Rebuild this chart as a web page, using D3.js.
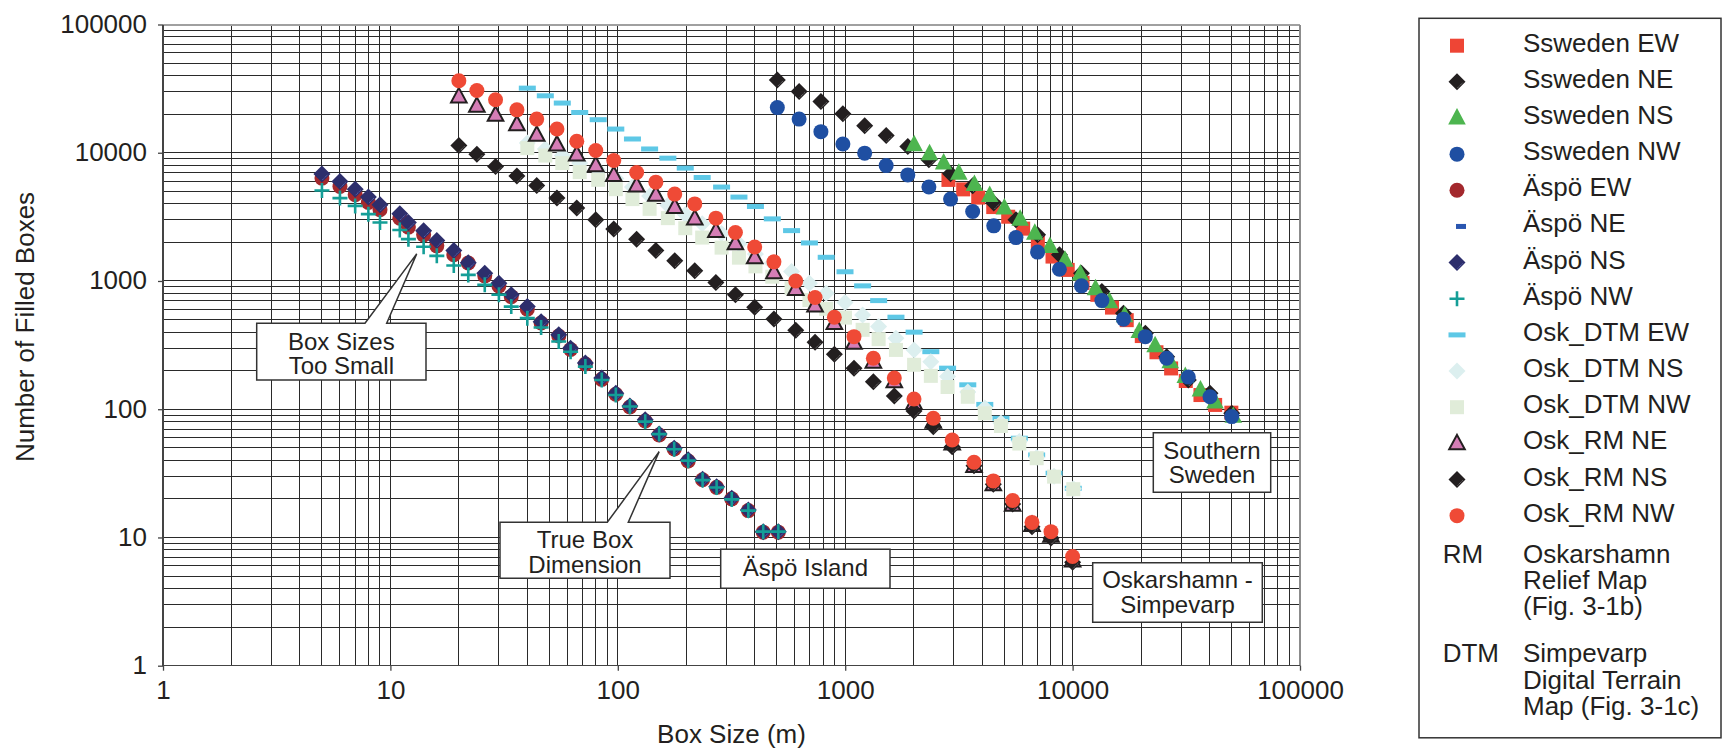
<!DOCTYPE html>
<html>
<head>
<meta charset="utf-8">
<script src="https://cdn.jsdelivr.net/npm/d3@7"></script>
<style>
  body { margin: 0; background: #fff; }
  text { font-family: "Liberation Sans", Arial, sans-serif; fill: #231f20; }
</style>
</head>
<body>
<svg id="chart" width="1724" height="753"></svg>
<script>
// ---- data (box size in m, number of filled boxes) ----
var swX      = [503, 627, 782, 977, 1218, 1514, 1885, 2334, 2906, 3635, 4500, 5634, 7015, 8750, 10940, 13450, 16740, 20890, 25930, 32270, 40200, 50100];
var swNeY    = [36900, 30000, 25100, 20100, 16200, 13600, 11200, 8800, 6850, 5520, 4050, 3000, 2290, 1600, 1150, 827, 561, 392, 257, 169, 133, 93];
var swNwY    = [22500, 18300, 14600, 11700, 9930, 7940, 6720, 5400, 4350, 3480, 2690, 2180, 1680, 1236, 916, 703, 504, 368, 250, 178, 125, 87.6];
var swNsX    = [2010, 2350, 2710, 3160, 3700, 4320, 5010, 5880, 6820, 7950, 9260, 10820, 12610, 14530, 16930, 19650, 23060, 26870, 31300, 36500, 42300, 50900];
var swNsY    = [11530, 9820, 8300, 6930, 5650, 4640, 3700, 3030, 2360, 1860, 1450, 1135, 868, 690, 535, 404, 312, 235, 180, 141, 114, 88];
var swEwX    = [2845, 3303, 3846, 4477, 5210, 6062, 7033, 8160, 9520, 11060, 12840, 14900, 17300, 20150, 23380, 27120, 31460, 36500, 42350, 49900];
var swEwY    = [6140, 5180, 4470, 3770, 3170, 2560, 1980, 1550, 1220, 966, 780, 620, 495, 372, 278, 208, 166, 129, 108, 94];

var aspoX    = [5, 6, 7, 8, 9, 11, 12, 14, 16, 19, 22, 26, 30, 34, 40, 46, 55, 62, 72, 85, 98, 113, 132, 152, 177, 204, 236, 272, 317, 375, 436, 508];
var aspoEwY  = [6340, 5450, 4700, 4090, 3590, 3090, 2630, 2290, 1880, 1600, 1380, 1096, 916, 755, 603, 470, 372, 292, 225, 171, 131, 104, 81, 63, 49, 39.5, 28.2, 24.6, 20, 16.2, 11, 11];
var aspoNeY  = [6700, 5850, 5100, 4430, 3850, 3280, 2800, 2410, 2030, 1700, 1370, 1130, 945, 768, 620, 475, 375, 295, 226, 173, 131, 105, 81.5, 63.5, 49, 40, 28.2, 24.7, 20, 16.2, 11, 11];
var aspoNsY  = [6840, 5960, 5200, 4510, 3930, 3340, 2860, 2460, 2070, 1730, 1390, 1150, 961, 780, 631, 482, 380, 299, 229, 175, 133, 106, 82.6, 64.1, 49.6, 40.3, 28.5, 24.9, 20.2, 16.4, 11.1, 11.1];
var aspoNwY  = [5070, 4430, 3850, 3320, 2860, 2500, 2120, 1850, 1570, 1320, 1115, 933, 780, 631, 513, 434, 337, 281, 215, 169, 129, 105, 80, 64, 48.8, 39.7, 28, 24.5, 19.8, 16.2, 11.1, 11.1];

var dtmX     = [40, 48, 57, 68, 82, 98, 116, 138, 166, 198, 235, 286, 341, 403, 478, 581, 696, 825, 998, 1193, 1403, 1672, 2009, 2380, 2820, 3460, 4110, 4840, 5830, 6950, 8290, 10070];
var dtmEwY   = [31900, 27800, 24400, 20600, 18100, 15300, 12800, 10700, 9070, 7590, 6410, 5400, 4510, 3810, 3050, 2470, 1980, 1530, 1180, 916, 703, 522, 399, 281, 209, 155, 109, 85, 59.4, 44, 31.7, 24.2];
var dtmNsY   = [11900, 10700, 9500, 8300, 7300, 6300, 5400, 4600, 3900, 3300, 2800, 2350, 1950, 1620, 1380, 1185, 961, 803, 679, 544, 441, 358, 290, 235, 180, 136, 102, 78, 56, 42, 30, 24];
var dtmNwY   = [10860, 9510, 8300, 7060, 6150, 5200, 4350, 3650, 3090, 2580, 2180, 1820, 1520, 1300, 1080, 879, 711, 606, 518, 416, 352, 290, 222, 182, 149, 125, 93, 74, 54, 41.5, 29.8, 23.8];

var rmX      = [20, 24, 29, 36, 44, 54, 66, 80, 96, 121, 147, 178, 218, 270, 329, 400, 486, 606, 737, 896, 1093, 1330, 1644, 2007, 2440, 2955, 3685, 4480, 5450, 6630, 8035, 10000];
var rmNeY    = [27500, 23200, 19800, 16700, 13800, 11600, 9700, 8000, 6700, 5550, 4700, 3780, 3070, 2450, 1970, 1530, 1170, 865, 645, 470, 330, 235, 165, 112, 80, 54, 36, 26, 18, 12.5, 10.3, 6.6];
var rmNsY    = [11400, 9750, 7800, 6600, 5550, 4430, 3700, 3000, 2540, 2120, 1730, 1440, 1200, 972, 780, 625, 505, 412, 333, 268, 209, 164, 127, 97, 73, 51, 36.3, 26, 18.2, 12.1, 9.9, 6.4];
var rmNwY    = [36400, 30600, 25900, 21600, 18300, 15300, 12300, 10400, 8700, 7010, 5900, 4760, 3990, 3090, 2390, 1840, 1410, 1000, 743, 522, 368, 250, 175, 120, 85, 57.6, 38.6, 27.6, 19.4, 13.1, 11.1, 7.1];

var majorTicks = [1, 10, 100, 1000, 10000, 100000];

// series table, in drawing / legend order
var series = [
  { name: 'Ssweden EW', x: swEwX, y: swEwY, shape: 'square', fill: '#ee4535' },
  { name: 'Ssweden NE', x: swX, y: swNeY, shape: 'diamond', fill: '#231f20', shine: '#8f8f8f' },
  { name: 'Ssweden NS', x: swNsX, y: swNsY, shape: 'triangle', fill: '#4db54f' },
  { name: 'Ssweden NW', x: swX, y: swNwY, shape: 'circle', fill: '#1f4fa2' },
  { name: 'Äspö EW', x: aspoX, y: aspoEwY, shape: 'circle', fill: '#a3282d' },
  { name: 'Äspö NE', x: aspoX, y: aspoNeY, shape: 'smalldash', fill: '#2a56b0' },
  { name: 'Äspö NS', x: aspoX, y: aspoNsY, shape: 'diamond', fill: '#2d2e6c', shine: '#6f78c8' },
  { name: 'Äspö NW', x: aspoX, y: aspoNwY, shape: 'plus', fill: '#149e97' },
  { name: 'Osk_DTM EW', x: dtmX, y: dtmEwY, shape: 'dash', fill: '#5ec8e6' },
  { name: 'Osk_DTM NS', x: dtmX, y: dtmNsY, shape: 'diamond', fill: '#dcefef' },
  { name: 'Osk_DTM NW', x: dtmX, y: dtmNwY, shape: 'square', fill: '#e0ecd9' },
  { name: 'Osk_RM NE', x: rmX, y: rmNeY, shape: 'outlinetriangle', fill: '#d57db6' },
  { name: 'Osk_RM NS', x: rmX, y: rmNsY, shape: 'diamond', fill: '#231f20', shine: '#8f8f8f' },
  { name: 'Osk_RM NW', x: rmX, y: rmNwY, shape: 'circle', fill: '#ef4a36' }
];

var svg = d3.select('#chart');
var x = d3.scaleLog().domain([1, 1e5]).range([163, 1300]);
var y = d3.scaleLog().domain([1, 1e5]).range([665.7, 24.5]);

// ---- grid ----
var grid = svg.append('g').attr('shape-rendering', 'crispEdges');
var gridVals = x.ticks().filter(function (v) { return v > 1 && v < 1e5; });
grid.selectAll('.vg').data(gridVals).enter().append('line')
  .attr('x1', function (d) { return x(d); }).attr('x2', function (d) { return x(d); })
  .attr('y1', y(1e5)).attr('y2', y(1))
  .attr('stroke', '#2a2a2a').attr('stroke-width', 1);
grid.selectAll('.hg').data(gridVals).enter().append('line')
  .attr('y1', function (d) { return y(d); }).attr('y2', function (d) { return y(d); })
  .attr('x1', x(1)).attr('x2', x(1e5))
  .attr('stroke', '#2a2a2a').attr('stroke-width', 1);

// frame
grid.append('line').attr('x1', x(1)).attr('x2', x(1e5)).attr('y1', y(1e5)).attr('y2', y(1e5))
  .attr('stroke', '#a0a0a0').attr('stroke-width', 2);
grid.append('line').attr('x1', x(1e5)).attr('x2', x(1e5)).attr('y1', y(1e5)).attr('y2', y(1))
  .attr('stroke', '#8c8c8c').attr('stroke-width', 2);
grid.append('line').attr('x1', x(1)).attr('x2', x(1)).attr('y1', y(1e5)).attr('y2', y(1))
  .attr('stroke', '#444').attr('stroke-width', 1.5);
grid.append('line').attr('x1', x(1)).attr('x2', x(1e5)).attr('y1', y(1)).attr('y2', y(1))
  .attr('stroke', '#444').attr('stroke-width', 1.5);

// ---- axes ----
var xAxis = d3.axisBottom(x).tickValues(majorTicks).tickFormat(d3.format('d')).tickSize(5).tickPadding(10);
var yAxis = d3.axisLeft(y).tickValues(majorTicks).tickFormat(d3.format('d')).tickSize(5).tickPadding(11);
var gx = svg.append('g').attr('transform', 'translate(0,' + y(1) + ')').call(xAxis);
var gy = svg.append('g').attr('transform', 'translate(' + x(1) + ',0)').call(yAxis);
[gx, gy].forEach(function (g) {
  g.select('.domain').remove();
  g.selectAll('.tick line').attr('stroke', '#444').attr('stroke-width', 1.3);
  g.selectAll('.tick text').style('font-size', '26px').style('font-family', '"Liberation Sans", Arial, sans-serif').attr('fill', '#231f20');
});
gy.selectAll('.tick text').attr('dy', '0.3em');

svg.append('text').attr('x', (x(1) + x(1e5)) / 2).attr('y', 743)
  .attr('text-anchor', 'middle').style('font-size', '26px').text('Box Size (m)');
svg.append('text').attr('transform', 'translate(34,327) rotate(-90)')
  .attr('text-anchor', 'middle').style('font-size', '26px').text('Number of Filled Boxes');

// ---- markers ----
function drawMarker(sel, s) {
  if (s.shape === 'square') {
    sel.append('rect').attr('x', -7).attr('y', -7).attr('width', 14).attr('height', 14).attr('fill', s.fill);
  } else if (s.shape === 'diamond') {
    sel.append('path').attr('d', 'M0,-8.5L8.5,0L0,8.5L-8.5,0Z').attr('fill', s.fill);
    if (s.shine) {
      sel.append('path').attr('d', 'M0.5,6L6,0.5').attr('stroke', s.shine)
        .attr('stroke-width', 0.8).attr('stroke-dasharray', '1.2,0.8').attr('fill', 'none');
    }
  } else if (s.shape === 'triangle') {
    sel.append('path').attr('d', 'M0,-10L8.8,6.5L-8.8,6.5Z').attr('fill', s.fill);
  } else if (s.shape === 'outlinetriangle') {
    sel.append('path').attr('d', 'M0,-8.5L7.8,6L-7.8,6Z').attr('fill', s.fill)
      .attr('stroke', '#231f20').attr('stroke-width', 2).attr('stroke-linejoin', 'miter');
  } else if (s.shape === 'circle') {
    sel.append('circle').attr('r', 7.5).attr('fill', s.fill);
  } else if (s.shape === 'dash') {
    sel.append('rect').attr('x', -8.5).attr('y', -2.5).attr('width', 17).attr('height', 5).attr('fill', s.fill);
  } else if (s.shape === 'smalldash') {
    sel.append('rect').attr('x', -5).attr('y', -2.5).attr('width', 10).attr('height', 5).attr('fill', s.fill);
  } else if (s.shape === 'plus') {
    sel.append('path').attr('d', 'M-7.5,0H7.5M0,-7.5V7.5').attr('stroke', s.fill)
      .attr('stroke-width', 2.6).attr('fill', 'none');
  }
}

var plot = svg.append('g');
series.forEach(function (s) {
  var pts = s.x.map(function (xv, i) { return [xv, s.y[i]]; });
  plot.append('g').selectAll('g').data(pts).enter().append('g')
    .attr('transform', function (d) { return 'translate(' + x(d[0]) + ',' + y(d[1]) + ')'; })
    .each(function () { drawMarker(d3.select(this), s); });
});

// ---- callouts ----
var ann = svg.append('g');
function callout(box, lines, baselines, wedge) {
  var p = d3.path();
  p.moveTo(box.x0, box.y0);
  if (wedge) {
    p.lineTo(wedge.b0, box.y0);
    p.lineTo(x(wedge.tip[0]), y(wedge.tip[1]));
    p.lineTo(wedge.b1, box.y0);
  }
  p.lineTo(box.x1, box.y0);
  p.lineTo(box.x1, box.y1);
  p.lineTo(box.x0, box.y1);
  p.closePath();
  ann.append('path').attr('d', p.toString()).attr('fill', '#fff')
    .attr('stroke', '#333').attr('stroke-width', 1.5);
  lines.forEach(function (t, i) {
    ann.append('text').attr('x', (box.x0 + box.x1) / 2).attr('y', baselines[i])
      .attr('text-anchor', 'middle').style('font-size', '24px').text(t);
  });
}
callout({ x0: 256.7, y0: 323.3, x1: 426, y1: 380 }, ['Box Sizes', 'Too Small'], [350, 374],
  { b0: 365, b1: 386.7, tip: [13.05, 1626] });
callout({ x0: 500, y0: 522.3, x1: 670, y1: 578.3 }, ['True Box', 'Dimension'], [548.3, 573.3],
  { b0: 607.3, b1: 628.3, tip: [152, 46.7] });
callout({ x0: 720.7, y0: 549.3, x1: 890, y1: 588.3 }, ['Äspö Island'], [575.7]);
callout({ x0: 1153.3, y0: 432.7, x1: 1270.7, y1: 492.3 }, ['Southern', 'Sweden'], [459.3, 482.7]);
callout({ x0: 1092.7, y0: 562.7, x1: 1262.3, y1: 622.3 }, ['Oskarshamn -', 'Simpevarp'], [588.3, 613.3]);

// ---- legend ----
var leg = svg.append('g');
leg.append('rect').attr('x', 1419).attr('y', 18.3).attr('width', 302).attr('height', 719.5)
  .attr('fill', '#fff').attr('stroke', '#333').attr('stroke-width', 1.5);
series.forEach(function (s, i) {
  var base = 51.7 + 36.15 * i;
  var mx = s.shape === 'smalldash' ? 1461 : 1457;
  var m = leg.append('g').attr('transform', 'translate(' + mx + ',' + (base - 6) + ')');
  drawMarker(m, s);
  leg.append('text').attr('x', 1523).attr('y', base).style('font-size', '26px').text(s.name);
});
var notes = [
  { key: 'RM', lines: ['Oskarshamn', 'Relief Map', '(Fig. 3-1b)'], base: 562.7 },
  { key: 'DTM', lines: ['Simpevarp', 'Digital Terrain', 'Map (Fig. 3-1c)'], base: 662.3 }
];
notes.forEach(function (n) {
  leg.append('text').attr('x', 1442.7).attr('y', n.base).style('font-size', '26px').text(n.key);
  n.lines.forEach(function (t, i) {
    leg.append('text').attr('x', 1523).attr('y', n.base + 26.3 * i).style('font-size', '26px').text(t);
  });
});
</script>
</body>
</html>
